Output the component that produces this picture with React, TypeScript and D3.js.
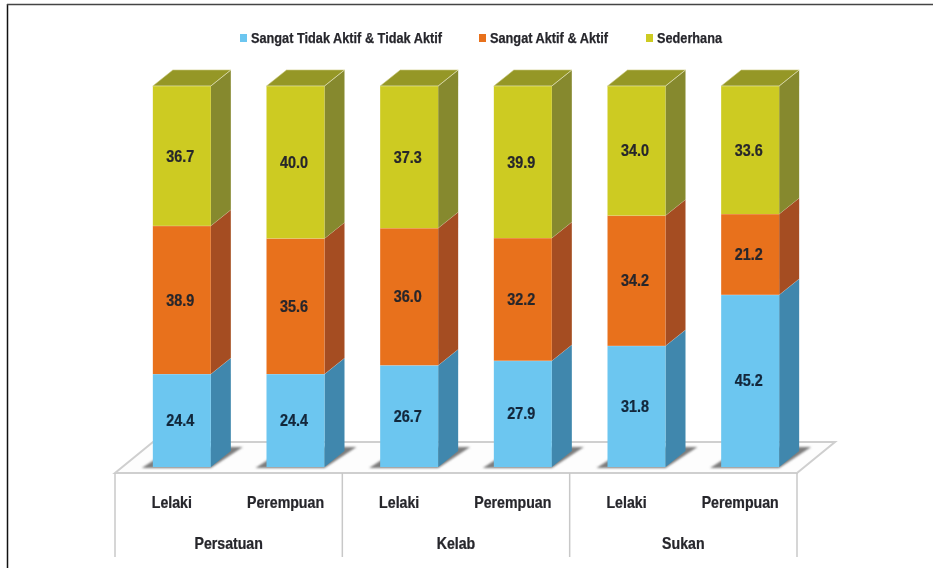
import React from "react";
import * as d3 from "d3";

const seriesNames = ["Sangat Tidak Aktif & Tidak Aktif", "Sangat Aktif & Aktif", "Sederhana"];
const groups = ["Persatuan", "Kelab", "Sukan"];
const genders = ["Lelaki", "Perempuan"];
const inactive = [24.4, 24.4, 26.7, 27.9, 31.8, 45.2];
const active = [38.9, 35.6, 36.0, 32.2, 34.2, 21.2];
const moderate = [36.7, 40.0, 37.3, 39.9, 34.0, 33.6];
const valueLabels = [
  ["24.4", "24.4", "26.7", "27.9", "31.8", "45.2"],
  ["38.9", "35.6", "36.0", "32.2", "34.2", "21.2"],
  ["36.7", "40.0", "37.3", "39.9", "34.0", "33.6"],
];
const frontColors = ["#6cc6f0", "#e8711f", "#cdcb22"];
const sideColors = ["#3f87ad", "#a54d20", "#86892f"];
const topColor = "#959728";
const legendMarkerX = [240, 479, 646];
const legendWidths = [191, 118, 65];

const W = 933;
const H = 569;
const FONT = "'Liberation Sans', Arial, sans-serif";
const TEXT = "#26262c";

const cats = d3.range(6);
const x = d3.scaleBand<number>().domain(cats).range([115, 797]);
const y = d3.scaleLinear().domain([0, 100]).range([467, 86]);
const groupX = d3.scaleBand<string>().domain(groups).range([115, 797]);
const rows = cats.map((i) => ({ i, a: inactive[i], b: active[i], c: moderate[i] }));
const stacked = d3.stack<any>().keys(["a", "b", "c"])(rows);

const BAR_W = 58;
const DX = 20;
const DY = 16;
const FLOOR_DX = 38;
const FLOOR_DY = 31;
const FLOOR_Y = 473;
const AXIS_BOTTOM = 557;

const barLeft = (i: number) => x(i)! + x.bandwidth() / 2 + 10 - BAR_W / 2;
const pts = (p: number[][]) => p.map((q) => q.join(",")).join(" ");

function Label({ x, y, sx, fill = TEXT, size = 16, anchor = "middle", children }: any) {
  return (
    <text
      transform={`translate(${x},${y}) scale(${sx},1)`}
      dy="0.35em"
      textAnchor={anchor}
      fontSize={size}
      fill={fill}
      stroke={fill}
      strokeWidth={0.25}
    >
      {children}
    </text>
  );
}

export default function App() {
  const [x0, x1] = x.range();
  const ticks = [...groups.map((g) => groupX(g)!), x1];
  return (
    <svg width={W} height={H} style={{ position: "absolute", left: 0, top: 0 }} fontFamily={FONT} fontWeight="bold">
      <defs>
        <filter id="soft" x="-5%" y="-5%" width="110%" height="110%">
          <feGaussianBlur stdDeviation="0.55" />
        </filter>
        <filter id="shadow" x="-20%" y="-30%" width="140%" height="160%">
          <feGaussianBlur stdDeviation="1" />
        </filter>
      </defs>
      <rect width={W} height={H} fill="#fff" />
      <line x1={7.5} y1={4} x2={7.5} y2={568} stroke="#111" strokeWidth={1.5} />
      <line x1={7} y1={4.5} x2={W} y2={4.5} stroke="#444" strokeWidth={1.5} />
      <g filter="url(#soft)">
        <polygon
          points={pts([[x0, FLOOR_Y], [x1, FLOOR_Y], [x1 + FLOOR_DX, FLOOR_Y - FLOOR_DY], [x0 + FLOOR_DX, FLOOR_Y - FLOOR_DY]])}
          fill="#fdfdfd"
          stroke="#cfcfcf"
          strokeWidth={2}
        />
        {ticks.map((t, k) => (
          <line key={k} x1={t} y1={FLOOR_Y} x2={t} y2={AXIS_BOTTOM} stroke="#c8c8c8" strokeWidth={1.5} />
        ))}
      </g>
      <g filter="url(#shadow)">
        {cats.map((i) => {
          const l = barLeft(i);
          return (
            <polygon
              key={i}
              points={pts([[l - 11, y(0) + 1], [l + BAR_W, y(0) + 1], [l + BAR_W + 32, y(0) - 20], [l + 21, y(0) - 20]])}
              fill="#7d7d7d"
            />
          );
        })}
      </g>
      <g filter="url(#soft)">
        {stacked.map((layer, s) =>
          layer.map((d, i) => {
            const l = barLeft(i);
            const r = l + BAR_W;
            const top = y(d[1]);
            const bottom = y(d[0]);
            return (
              <g key={`${s}-${i}`}>
                <polygon points={pts([[r, top], [r + DX, top - DY], [r + DX, bottom - DY], [r, bottom]])} fill={sideColors[s]} />
                {s === 2 && (
                  <polygon points={pts([[l, top], [l + DX, top - DY], [r + DX, top - DY], [r, top]])} fill={topColor} stroke="#c9c77a" strokeWidth={0.6} />
                )}
                <rect x={l} y={top} width={BAR_W} height={bottom - top} fill={frontColors[s]} />
                <line x1={l} y1={top} x2={r} y2={top} stroke="#fff" strokeOpacity={0.35} />
                <line x1={r} y1={top} x2={r + DX} y2={top - DY} stroke="#fff" strokeOpacity={0.35} />
              </g>
            );
          })
        )}
      </g>
      <g filter="url(#soft)">
        {stacked.map((layer, s) =>
          layer.map((d, i) => (
            <Label
              key={`${s}-${i}`}
              x={barLeft(i) + BAR_W / 2 - 1.5}
              y={(y(d[0]) + y(d[1])) / 2}
              sx={0.9}
              fill={s === 0 ? "#12263a" : TEXT}
            >
              {valueLabels[s][i]}
            </Label>
          ))
        )}
        {seriesNames.map((n, s) => (
          <g key={n}>
            <rect x={legendMarkerX[s]} y={34} width={7} height={8} fill={frontColors[s]} />
            <text
              x={legendMarkerX[s] + 11}
              y={38}
              dy="0.35em"
              fontSize={15}
              fill={TEXT}
              stroke={TEXT}
              strokeWidth={0.25}
              textLength={legendWidths[s]}
              lengthAdjust="spacingAndGlyphs"
            >
              {n}
            </text>
          </g>
        ))}
        {cats.map((i) => (
          <Label key={i} x={x(i)! + x.bandwidth() / 2} y={502} sx={0.885}>
            {genders[i % 2]}
          </Label>
        ))}
        {groups.map((g) => (
          <Label key={g} x={groupX(g)! + groupX.bandwidth() / 2} y={543} sx={0.885}>
            {g}
          </Label>
        ))}
      </g>
    </svg>
  );
}
